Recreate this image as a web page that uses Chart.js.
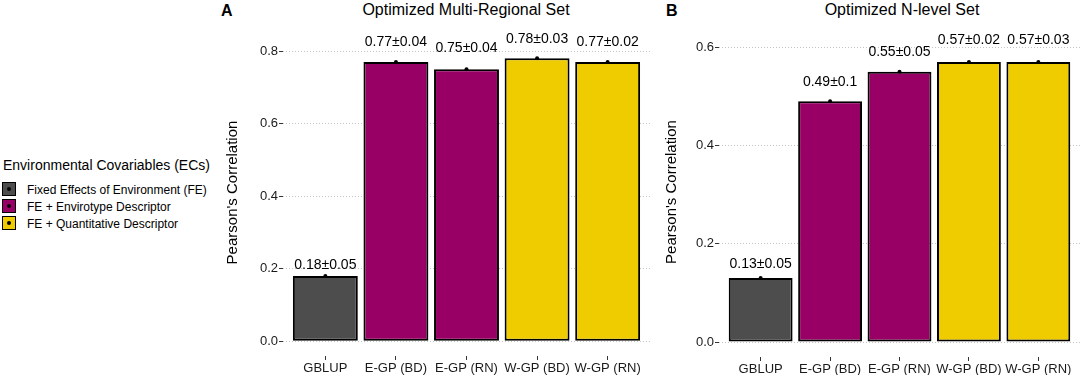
<!DOCTYPE html>
<html>
<head>
<meta charset="utf-8">
<script src="https://cdn.jsdelivr.net/npm/chart.js@4/dist/chart.umd.min.js"></script>
<style>
  body{margin:0;width:1084px;height:375px;position:relative;background:#fff;overflow:hidden;
       font-family:"Liberation Sans",Arial,sans-serif;color:#000}
  .abs{position:absolute;white-space:nowrap}
  .ttl{font-size:16px;line-height:16px;transform:translateX(-50%)}
  .tag{font-size:16px;line-height:16px;font-weight:bold}
  .key{position:absolute;left:2px;width:12px;height:12px;border:1.5px solid #000}
  .key:after{content:"";position:absolute;left:4px;top:4px;width:4px;height:4px;border-radius:2px;background:#000}
  .lab{position:absolute;left:27px;font-size:12px;line-height:14px}
</style>
</head>
<body>

<!-- legend -->
<div class="abs" style="left:3px;top:157px;font-size:14px;line-height:16px">Environmental Covariables (ECs)</div>
<div class="key" style="top:182px;background:#4d4d4d"></div><div class="lab" style="top:183px">Fixed Effects of Environment (FE)</div>
<div class="key" style="top:199px;background:#990066"></div><div class="lab" style="top:200px">FE + Envirotype Descriptor</div>
<div class="key" style="top:216px;background:#eecc00"></div><div class="lab" style="top:217px">FE + Quantitative Descriptor</div>

<div class="abs tag" style="left:221px;top:3px">A</div>
<div class="abs ttl" style="left:466px;top:2px">Optimized Multi-Regional Set</div>
<div class="abs tag" style="left:666px;top:3px">B</div>
<div class="abs ttl" style="left:902px;top:2px">Optimized N-level Set</div>

<div class="abs" style="left:216px;top:0;width:444px;height:375px"><canvas id="chartA"></canvas></div>
<div class="abs" style="left:655px;top:0;width:429px;height:375px"><canvas id="chartB"></canvas></div>

<script>
var categories = ['GBLUP', 'E-GP (BD)', 'E-GP (RN)', 'W-GP (BD)', 'W-GP (RN)'];
var barColors = ['#4d4d4d', '#990066', '#990066', '#eecc00', '#eecc00'];

// panel A - multi-regional set
var meanA = [0.18, 0.77, 0.75, 0.78, 0.77];
var sdA = [0.05, 0.04, 0.04, 0.03, 0.02];
var labelYA = [0.21, 0.826, 0.807, 0.834, 0.826];
var yTicksA = [0, 0.2, 0.4, 0.6, 0.8];

// panel B - N-level set
var meanB = [0.13, 0.49, 0.55, 0.57, 0.57];
var sdB = [0.05, 0.1, 0.05, 0.02, 0.03];
var labelYB = [0.159, 0.529, 0.59, 0.614, 0.614];
var yTicksB = [0, 0.2, 0.4, 0.6];

var font = "'Liberation Sans', Arial, sans-serif";

// text above the bars
var valueLabels = {
  id: 'valueLabels',
  afterDatasetsDraw: function(chart, args, opts) {
    var ctx = chart.ctx;
    ctx.save();
    ctx.font = '14px ' + font;
    ctx.fillStyle = '#000';
    ctx.textAlign = 'center';
    ctx.textBaseline = 'middle';
    for (var i = 0; i < opts.means.length; i++) {
      var x = chart.scales.x.getPixelForValue(i);
      var y = chart.scales.y.getPixelForValue(opts.pos[i]);
      ctx.fillText(String(opts.means[i]) + '±' + String(opts.sds[i]), x, y);
    }
    ctx.restore();
  }
};

function makeChart(id, means, sds, labelPos, yTicks, yMin, yMax, yWidth, xHeight, padTop, padRight) {
  var pts = means.map(function(v, i) { return {x: i, y: v}; });
  var config = {
    type: 'bar',
    data: {
      datasets: [{
        data: pts,
        backgroundColor: barColors,
        borderColor: '#000',
        borderWidth: 2,
        borderSkipped: false,
        barPercentage: 0.92,
        categoryPercentage: 1
      }, {
        type: 'scatter',
        data: pts,
        pointRadius: 2,
        pointBackgroundColor: '#000',
        pointBorderWidth: 0
      }]
    },
    options: {
      responsive: true,
      maintainAspectRatio: false,
      animation: false,
      layout: {padding: {top: padTop, right: padRight, left: 0, bottom: 0}},
      plugins: {
        legend: {display: false},
        tooltip: {enabled: false},
        valueLabels: {means: means, sds: sds, pos: labelPos}
      },
      scales: {
        x: {
          type: 'linear',
          min: -0.6,
          max: 4.6,
          offset: false,
          afterBuildTicks: function(s) { s.ticks = categories.map(function(c, i) { return {value: i}; }); },
          afterFit: function(s) { s.height = xHeight; },
          border: {display: false},
          grid: {drawOnChartArea: false, drawTicks: true, tickLength: 4, tickColor: '#333', offset: false},
          ticks: {
            autoSkip: false, maxRotation: 0, padding: 1,
            color: '#1a1a1a', font: {family: font, size: 13},
            callback: function(v) { return categories[v]; }
          }
        },
        y: {
          min: yMin,
          max: yMax,
          afterBuildTicks: function(s) { s.ticks = yTicks.map(function(v) { return {value: v}; }); },
          afterFit: function(s) { s.width = yWidth; },
          border: {display: false, dash: [1, 2]},
          grid: {color: '#c4c4c4', lineWidth: 1, tickLength: 4, tickColor: '#333'},
          ticks: {
            padding: 1, color: '#1a1a1a', font: {family: font, size: 13},
            callback: function(v) { return v.toFixed(1); }
          },
          title: {display: true, text: "Pearson's Correlation", color: '#000',
                  font: {family: font, size: 15}, padding: {top: 8, bottom: 0}}
        }
      }
    },
    plugins: [valueLabels]
  };
  return new Chart(document.getElementById(id).getContext('2d'), config);
}

makeChart('chartA', meanA, sdA, labelYA, yTicksA, -0.041, 0.861, 67, 19, 29, 10);
makeChart('chartB', meanB, sdB, labelYB, yTicksB, -0.0305, 0.641, 64, 18, 27, 0);
</script>
</body>
</html>
